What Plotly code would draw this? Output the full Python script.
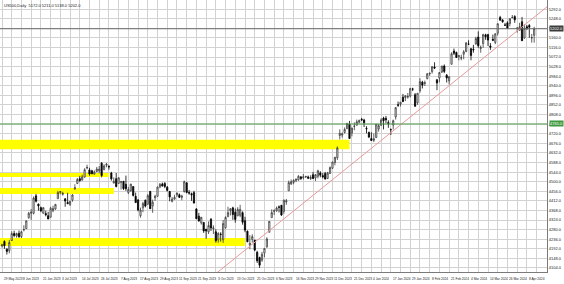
import plotly.graph_objects as go
import pandas as pd

# ---------------- data ----------------
symbol_title = "US500,Daily"
holidays = ["2023-06-19", "2023-07-04", "2023-09-04", "2023-11-23", "2023-12-25",
            "2024-01-01", "2024-01-15", "2024-02-19", "2024-03-29"]
dates = [d for d in pd.bdate_range("2023-05-29", "2024-04-11")
         if d.strftime("%Y-%m-%d") not in holidays]

opens = [
    4205, 4226, 4190, 4183, 4230,
    4262, 4251, 4263, 4248, 4280,
    4285, 4335, 4355, 4355, 4435,
    4397, 4381, 4355, 4354,
    4344, 4337, 4367, 4375, 4422,
    4450, 4442, 4422, 4405,
    4395, 4415, 4467, 4492, 4514,
    4508, 4521, 4563, 4554, 4550,
    4535, 4547, 4550, 4585, 4555,
    4575, 4570, 4540, 4494, 4514,
    4492, 4498, 4502, 4488, 4450,
    4459, 4478, 4433, 4416, 4344,
    4380, 4415, 4396, 4455, 4389,
    4426, 4433, 4476, 4490, 4492,
    4475, 4455, 4410, 4420,
    4440, 4440, 4428, 4455, 4495,
    4450, 4445, 4450, 4375, 4342,
    4311, 4313, 4282, 4270, 4328,
    4284, 4270, 4233, 4259, 4234,
    4289, 4339, 4367, 4380, 4360,
    4343, 4346, 4358, 4321, 4273,
    4210, 4235, 4232, 4176, 4152,
    4140, 4172, 4201, 4268, 4335,
    4365, 4366, 4384, 4392, 4364,
    4407, 4458, 4490, 4497, 4506,
    4508, 4522, 4518, 4522,
    4522, 4514, 4532, 4517, 4525,
    4540, 4528, 4538, 4515, 4538,
    4562, 4588, 4610, 4712, 4714,
    4726, 4743, 4764, 4724, 4754,
    4759, 4773, 4786, 4783,
    4745, 4726, 4698, 4690,
    4703, 4742, 4759, 4792, 4791,
    4772, 4739, 4760, 4797,
    4853, 4856, 4888, 4886, 4888,
    4893, 4925, 4899, 4862, 4917,
    4957, 4951, 4973, 4995, 5005,
    5026, 4968, 4976, 5003, 5031,
    4989, 4963, 5039, 5100,
    5093, 5074, 5067, 5085, 5098,
    5131, 5110, 5108, 5132, 5164,
    5111, 5134, 5174, 5176, 5123,
    5154, 5139, 5181, 5254, 5242,
    5219, 5229, 5226, 5253,
    5258, 5204, 5195, 5234, 5159,
    5211, 5217, 5160, 5172,
]
highs = [
    4215, 4231, 4195, 4232, 4272,
    4275, 4266, 4276, 4275, 4300,
    4322, 4362, 4375, 4432, 4444,
    4400, 4386, 4382, 4367,
    4362, 4385, 4390, 4398, 4458,
    4456, 4454, 4423, 4449,
    4412, 4443, 4488, 4517, 4527,
    4532, 4562, 4578, 4564, 4555,
    4552, 4568, 4572, 4590, 4580,
    4586, 4576, 4545, 4520, 4540,
    4520, 4504, 4503, 4528, 4476,
    4490, 4478, 4450, 4421, 4381,
    4408, 4418, 4443, 4458, 4418,
    4440, 4478, 4494, 4496, 4498,
    4480, 4458, 4430, 4440,
    4450, 4446, 4440, 4505, 4497,
    4462, 4450, 4458, 4378, 4357,
    4338, 4314, 4282, 4318, 4333,
    4300, 4282, 4268, 4268, 4324,
    4341, 4385, 4378, 4385, 4377,
    4383, 4394, 4364, 4339, 4276,
    4255, 4259, 4232, 4183, 4156,
    4178, 4194, 4245, 4319, 4373,
    4373, 4386, 4391, 4393, 4418,
    4421, 4505, 4510, 4511, 4516,
    4530, 4526, 4535, 4527,
    4528, 4530, 4545, 4535, 4555,
    4548, 4540, 4545, 4545, 4570,
    4592, 4614, 4662, 4740, 4726,
    4749, 4769, 4779, 4748, 4772,
    4785, 4785, 4793, 4789,
    4755, 4730, 4727, 4721,
    4764, 4765, 4791, 4798, 4802,
    4782, 4744, 4785, 4842,
    4868, 4866, 4903, 4898, 4907,
    4929, 4931, 4907, 4906, 4975,
    4963, 4964, 4999, 5000, 5031,
    5048, 4970, 5003, 5033, 5038,
    4994, 4983, 5094, 5111,
    5097, 5081, 5083, 5104, 5140,
    5149, 5114, 5128, 5165, 5190,
    5125, 5179, 5179, 5176, 5136,
    5175, 5180, 5226, 5261, 5246,
    5229, 5236, 5249, 5265,
    5264, 5208, 5229, 5256, 5222,
    5219, 5224, 5178, 5211,
]
lows = [
    4198, 4192, 4166, 4171, 4228,
    4245, 4243, 4243, 4241, 4272,
    4283, 4330, 4325, 4350, 4405,
    4367, 4360, 4353, 4341,
    4328, 4336, 4360, 4371, 4422,
    4442, 4436, 4385, 4397,
    4389, 4408, 4463, 4489, 4499,
    4504, 4519, 4557, 4527, 4535,
    4532, 4543, 4538, 4520, 4553,
    4566, 4555, 4505, 4492, 4474,
    4491, 4464, 4462, 4458, 4443,
    4454, 4432, 4403, 4364, 4335,
    4360, 4382, 4396, 4375, 4357,
    4412, 4431, 4470, 4478, 4470,
    4455, 4410, 4405, 4418,
    4430, 4425, 4415, 4450, 4447,
    4440, 4412, 4400, 4329, 4316,
    4303, 4265, 4238, 4260, 4274,
    4260, 4220, 4220, 4225, 4219,
    4284, 4339, 4345, 4325, 4312,
    4343, 4337, 4303, 4268, 4223,
    4190, 4220, 4181, 4127, 4104,
    4132, 4153, 4197, 4268, 4335,
    4347, 4362, 4359, 4343, 4353,
    4394, 4458, 4485, 4488, 4498,
    4505, 4508, 4510, 4517,
    4512, 4508, 4512, 4503, 4515,
    4520, 4515, 4510, 4512, 4535,
    4558, 4575, 4600, 4694, 4702,
    4721, 4743, 4698, 4708, 4736,
    4758, 4768, 4780, 4751,
    4722, 4700, 4687, 4682,
    4700, 4730, 4756, 4740, 4768,
    4747, 4714, 4740, 4785,
    4843, 4845, 4865, 4870, 4881,
    4887, 4916, 4845, 4853, 4908,
    4928, 4939, 4970, 4986, 4996,
    5017, 4920, 4956, 4999, 4998,
    4955, 4946, 5038, 5081,
    5068, 5057, 5057, 5062, 5094,
    5127, 5057, 5092, 5129, 5114,
    5092, 5114, 5151, 5123, 5105,
    5145, 5131, 5171, 5240, 5229,
    5216, 5203, 5213, 5250,
    5229, 5184, 5194, 5146, 5157,
    5197, 5160, 5138, 5138,
]
closes = [
    4210, 4206, 4180, 4221, 4262,
    4253, 4262, 4247, 4270, 4280,
    4320, 4355, 4360, 4425, 4410,
    4389, 4366, 4381, 4348,
    4329, 4378, 4377, 4396, 4450,
    4455, 4446, 4411, 4399,
    4410, 4439, 4472, 4510, 4505,
    4522, 4555, 4565, 4535, 4536,
    4545, 4558, 4557, 4528, 4572,
    4580, 4568, 4513, 4502, 4478,
    4518, 4499, 4468, 4468, 4464,
    4489, 4437, 4404, 4370, 4370,
    4400, 4388, 4436, 4376, 4406,
    4433, 4475, 4488, 4480, 4478,
    4460, 4430, 4420, 4428,
    4448, 4428, 4434, 4500, 4450,
    4448, 4440, 4402, 4330, 4320,
    4337, 4274, 4274, 4299, 4288,
    4288, 4229, 4263, 4258, 4308,
    4336, 4358, 4376, 4349, 4327,
    4373, 4373, 4314, 4278, 4224,
    4217, 4248, 4186, 4137, 4117,
    4167, 4194, 4237, 4318, 4358,
    4366, 4379, 4383, 4347, 4415,
    4412, 4496, 4500, 4506, 4510,
    4525, 4515, 4522, 4524,
    4516, 4520, 4515, 4532, 4550,
    4530, 4522, 4512, 4540, 4565,
    4590, 4612, 4655, 4722, 4719,
    4740, 4768, 4698, 4746, 4755,
    4775, 4781, 4783, 4770,
    4743, 4705, 4689, 4697,
    4764, 4757, 4783, 4780, 4784,
    4766, 4739, 4780, 4840,
    4851, 4865, 4868, 4894, 4891,
    4928, 4925, 4846, 4906, 4959,
    4943, 4954, 4995, 4998, 5027,
    5022, 4953, 5001, 5030, 5006,
    4976, 4982, 5087, 5089,
    5070, 5078, 5069, 5096, 5137,
    5131, 5079, 5105, 5157, 5124,
    5117, 5175, 5165, 5150, 5117,
    5149, 5179, 5225, 5241, 5234,
    5218, 5204, 5248, 5254,
    5243, 5205, 5211, 5147, 5204,
    5202, 5209, 5161, 5202,
]

# support / resistance zones (yellow rectangles)
zone_tops = [4692, 4540, 4471, 4242]
zone_bottoms = [4649, 4522, 4443, 4205]
zone_end_dates = ["2023-12-20", "2023-08-01", "2023-08-03", "2023-10-19"]

# horizontal level (green) and trend line anchors
green_level = 4765.0
trend_dates = ["2023-10-04", "2024-04-11"]
trend_prices = [4087.0, 5255.0]

# axis settings
y_range = [4085.6, 5333.8]
y_tick0 = 4500.0
y_dtick = 44.0
label_every = 8
grid_every = 4

# ---------------- figure ----------------
n = min(len(dates), len(opens), len(highs), len(lows), len(closes))
dates = dates[:n]
idx = list(range(n))
date_key = {d.strftime("%Y-%m-%d"): i for i, d in enumerate(dates)}

fig = go.Figure()

fig.add_trace(go.Candlestick(
    x=idx, open=opens[:n], high=highs[:n], low=lows[:n], close=closes[:n],
    increasing=dict(line=dict(color="#3a3a3a", width=0.8), fillcolor="#ffffff"),
    decreasing=dict(line=dict(color="#000000", width=0.8), fillcolor="#000000"),
    whiskerwidth=0, showlegend=False, hoverinfo="skip",
))

# yellow zones
for top, bot, end in zip(zone_tops, zone_bottoms, zone_end_dates):
    fig.add_shape(type="rect", xref="x", yref="y", x0=-10, x1=date_key[end],
                  y0=bot, y1=top, fillcolor="#ffff00", line=dict(width=0),
                  layer="between")

# trend line (ray extended to the right)
ta, tb = date_key[trend_dates[0]], date_key[trend_dates[1]]
slope = (trend_prices[1] - trend_prices[0]) / (tb - ta)
x_far = 260
fig.add_trace(go.Scatter(
    x=[ta - 20, x_far],
    y=[trend_prices[0] - 20 * slope, trend_prices[0] + (x_far - ta) * slope],
    mode="lines", line=dict(color="#e89a9a", width=1), showlegend=False,
    hoverinfo="skip",
))

# green horizontal level
fig.add_shape(type="line", xref="paper", yref="y", x0=0, x1=1,
              y0=green_level, y1=green_level, line=dict(color="#4f9f4f", width=1))
# current price line
last_price = closes[n - 1]
fig.add_shape(type="line", xref="paper", yref="y", x0=0, x1=1,
              y0=last_price, y1=last_price, line=dict(color="#6a6a6a", width=1))

# price boxes on axis
fig.add_annotation(x=1, xref="paper", y=green_level, yref="y", xanchor="left",
                   text=f"{green_level:.1f}", showarrow=False, bgcolor="#3e9a3e",
                   font=dict(size=4, color="white", family="Liberation Sans"),
                   borderpad=0, xshift=2)
fig.add_annotation(x=1, xref="paper", y=last_price, yref="y", xanchor="left",
                   text=f"{last_price:.1f}", showarrow=False, bgcolor="#3c3c3c",
                   font=dict(size=4, color="white", family="Liberation Sans"),
                   borderpad=0, xshift=2)

# date labels (left aligned to their bar, like the terminal)
for i in range(0, n, label_every):
    d = dates[i]
    fig.add_annotation(x=i, xref="x", y=0, yref="paper", yanchor="top",
                       xanchor="left", yshift=-3, showarrow=False,
                       text=f"{d.day} {d.strftime('%b %Y')}",
                       font=dict(size=3.2, color="#222222", family="Liberation Sans"))

# title text
fig.add_annotation(x=0, xref="paper", y=1, yref="paper", xanchor="left",
                   yanchor="top", xshift=2, yshift=-1, showarrow=False,
                   text=f"{symbol_title}  {opens[n-1]:.1f} {highs[n-1]:.1f} "
                        f"{lows[n-1]:.1f} {closes[n-1]:.1f}",
                   font=dict(size=4, color="#222222", family="Liberation Sans"))

px_per_bar = 2.43
x0 = -2 / px_per_bar
x1 = x0 + 547 / px_per_bar

fig.update_layout(
    width=564, height=284,
    margin=dict(l=0, r=17, t=0, b=12),
    paper_bgcolor="white", plot_bgcolor="white",
    font=dict(family="Liberation Sans", size=4, color="#222222"),
    xaxis=dict(range=[x0, x1], rangeslider=dict(visible=False),
               tickmode="array", tickvals=list(range(0, n + 8, grid_every)),
               showticklabels=False, showgrid=True, gridcolor="#d2d2d2",
               gridwidth=1, zeroline=False, showline=True,
               linecolor="#7a7a7a", linewidth=1, ticks=""),
    yaxis=dict(range=y_range, side="right", tick0=y_tick0, dtick=y_dtick,
               tickformat=".1f", showgrid=True, gridcolor="#d2d2d2",
               gridwidth=1, zeroline=False, showline=True,
               linecolor="#7a7a7a", linewidth=1, ticks="",
               tickfont=dict(size=4, color="#222222")),
)

fig.write_html("out.html")
